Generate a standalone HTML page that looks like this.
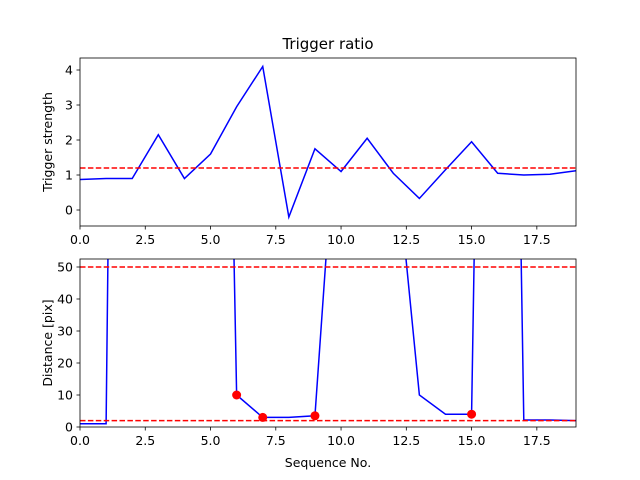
<!DOCTYPE html>
<html><head><meta charset="utf-8"><style>
body{margin:0;background:#fff;}
svg{display:block;font-family:"DejaVu Sans","Liberation Sans",sans-serif;}
</style></head><body>
<svg id="fig" width="640" height="480" xmlns="http://www.w3.org/2000/svg"></svg>
<script>
const seq = [0,1,2,3,4,5,6,7,8,9,10,11,12,13,14,15,16,17,18,19];
const triggerStrength = [0.87,0.9,0.9,2.15,0.9,1.6,2.95,4.1,-0.2,1.75,1.1,2.05,1.05,0.33,1.15,1.95,1.05,1.0,1.02,1.12];
const triggerThreshold = 1.2;
const distance = [1,1,736,600,500,435,10,3,3,3.5,120,200,93,10,4,4,500,2.2,2.2,2];
const distThresholds = [50,2];
const markedIdx = [6,7,9,15];
const xTicks = [0,2.5,5,7.5,10,12.5,15,17.5];
const xTickLabels = ["0.0","2.5","5.0","7.5","10.0","12.5","15.0","17.5"];
const topYTicks = [0,1,2,3,4];
const botYTicks = [0,10,20,30,40,50];

const NS="http://www.w3.org/2000/svg";
const svg=document.getElementById('fig');
function mk(tag,attrs,parent){const e=document.createElementNS(NS,tag);for(const k in attrs)e.setAttribute(k,attrs[k]);(parent||svg).appendChild(e);return e;}

function axes(top,bottom,ymin,ymax,yTicks,values,thresholds,ylabel,name,clipId){
  const L=80,R=576;
  const sx=v=>L+(v-0)/(19-0)*(R-L);
  const sy=v=>bottom-(v-ymin)/(ymax-ymin)*(bottom-top);
  const g=mk('g',{});
  
  
  const cp=mk('clipPath',{id:clipId},g);
  mk('rect',{x:L,y:top,width:R-L,height:bottom-top},cp);
  const pg=mk('g',{'clip-path':'url(#'+clipId+')'},g);
  const pts=values.map((v,i)=>sx(seq[i])+','+sy(v)).join(' ');
  const line=mk('polyline',{points:pts,fill:'none',stroke:'#0000ff','stroke-width':1.5},pg);
  
  
  thresholds.forEach(t=>{
    const l=mk('line',{x1:L,x2:R,y1:sy(t),y2:sy(t),stroke:'#ff0000','stroke-width':1.5,'stroke-dasharray':'5.5,2.4'},pg);
    
    
  });
  mk('rect',{x:L,y:top,width:R-L,height:bottom-top,fill:'none',stroke:'#000','stroke-width':0.8},g);
  xTicks.forEach((t,i)=>{
    mk('line',{x1:sx(t),x2:sx(t),y1:bottom,y2:bottom+3.5,stroke:'#000','stroke-width':0.8},g);
    const tx=mk('text',{x:sx(t),y:bottom+18,'font-size':12.5,'text-anchor':'middle'},g);
    tx.textContent=xTickLabels[i];
    
    
  });
  yTicks.forEach(t=>{
    mk('line',{x1:L-3.5,x2:L,y1:sy(t),y2:sy(t),stroke:'#000','stroke-width':0.8},g);
    const tx=mk('text',{x:L-7,y:sy(t)+4.5,'font-size':12.5,'text-anchor':'end'},g);
    tx.textContent=String(t);
    
    
  });
  const yl=mk('text',{x:0,y:0,'font-size':12.5,'text-anchor':'middle',transform:'translate(52,'+((top+bottom)/2)+') rotate(-90)'},g);
  yl.textContent=ylabel;
  
  
  return {sx,sy,g,pg};
}

const xl1=mk('text',{x:328,y:268,'font-size':12.5,'text-anchor':'middle'});
xl1.textContent='Sequence No.';



const ttl=mk('text',{x:328,y:49,'font-size':15,'text-anchor':'middle'});
ttl.textContent='Trigger ratio';



axes(58,226,-0.457,4.343,topYTicks,triggerStrength,[triggerThreshold],'Trigger strength','trigger-axes','c1');
mk('rect',{x:80,y:259,width:496,height:168,fill:'#fff'});
const b=axes(259,427,0,52.5,botYTicks,distance,distThresholds,'Distance [pix]','distance-axes','c2');
markedIdx.forEach(i=>{
  const c=mk('circle',{cx:b.sx(seq[i]),cy:b.sy(distance[i]),r:4.5,fill:'#ff0000'},b.g);
  
  
});
const xl2=mk('text',{x:328,y:467,'font-size':12.5,'text-anchor':'middle'});
xl2.textContent='Sequence No.';


</script>
</body></html>
